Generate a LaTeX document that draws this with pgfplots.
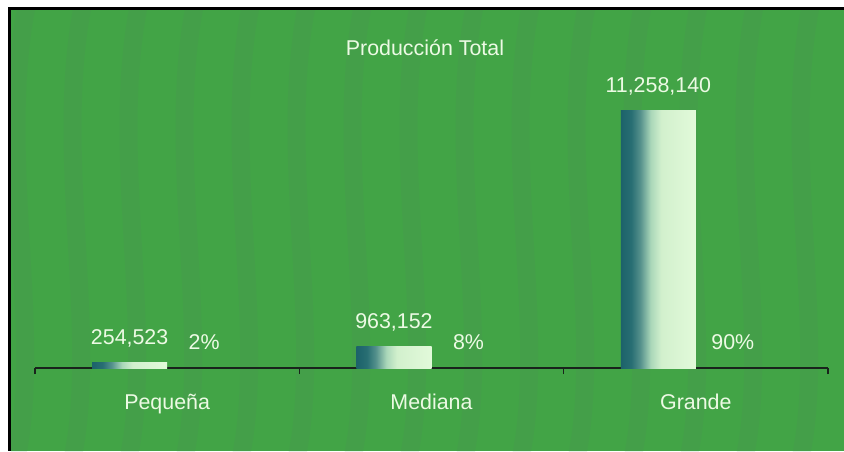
\documentclass[border=0pt]{standalone}
\usepackage{fontspec}
\setmainfont{Liberation Sans}
\usepackage{pgfplots}
\pgfplotsset{compat=1.18}
\definecolor{bg}{RGB}{66,164,70}
\definecolor{streak}{RGB}{85,130,100}
\definecolor{txt}{RGB}{236,250,228}
\definecolor{axisdark}{RGB}{25,35,28}
\definecolor{bA}{RGB}{28,98,106}
\definecolor{bA2}{RGB}{40,110,115}
\definecolor{bB}{RGB}{85,145,140}
\definecolor{bC}{RGB}{170,215,185}
\definecolor{bD}{RGB}{210,240,205}
\definecolor{bE}{RGB}{226,250,218}
\pgfdeclarehorizontalshading{barshade}{100bp}{color(0bp)=(bA); color(25bp)=(bA); color(32bp)=(bA2); color(38bp)=(bB); color(45bp)=(bC); color(52bp)=(bD); color(75bp)=(bE); color(100bp)=(bE)}
\begin{document}
\begin{tikzpicture}[x=1pt,y=1pt]
\fill[white] (0,0) rectangle (422,225.5);
\fill[bg] (5.5,0) rectangle (422,220.5);
\begin{scope}
\clip (5.5,0) rectangle (422,220.5);
\foreach \s in {-20,8,...,440}{
  \draw[streak, opacity=0.12, line width=9pt]
    (\s,-5) .. controls (\s+14,60) and (\s-10,150) .. (\s+6,226);
}
\end{scope}
\fill[black] (4,220.5) rectangle (422,222);
\fill[black] (4,0) rectangle (5.5,222);
\begin{axis}[
  at={(17.5pt,41.5pt)}, anchor=south west,
  scale only axis, width=396.5pt, height=179pt,
  xmin=0, xmax=3, ymin=0, ymax=15682000,
  axis x line=bottom, axis y line=none,
  axis line style={-, axisdark, line width=0.6pt},
  xtick={0,1,2,3}, xticklabels={}, ytick=\empty,
  tick align=outside, major tick length=3pt,
  tick style={axisdark, line width=0.6pt},
  clip=false,
  every node near coord/.append style={text=txt, font=\fontsize{10.7}{12.8}\selectfont},
  barstyle/.style={ybar, bar width=0.284, bar shift=0pt, draw=none,
    shading=barshade,
    nodes near coords, point meta=explicit symbolic,
    nodes near coords style={anchor=base, yshift=9pt}},
]
\addplot[barstyle] coordinates {(0.358,254523)[254,523]};
\addplot[barstyle] coordinates {(1.358,963152)[963,152]};
\addplot[barstyle] coordinates {(2.358,11258140)[11,258,140]};
\addplot[draw=none, mark=none, nodes near coords, point meta=explicit symbolic,
  nodes near coords style={anchor=base, yshift=9.5pt}]
  coordinates {(0.64,0)[2\%] (1.64,0)[8\%] (2.64,0)[90\%]};
\node[anchor=base, text=txt, font=\fontsize{10.7}{12.8}\selectfont] at (rel axis cs:0.4918,0.874) {Producción Total};
\node[anchor=base, yshift=-20.5pt, text=txt, font=\fontsize{10.7}{12.8}\selectfont] at (axis cs:0.5,0) {Pequeña};
\node[anchor=base, yshift=-20.5pt, text=txt, font=\fontsize{10.7}{12.8}\selectfont] at (axis cs:1.5,0) {Mediana};
\node[anchor=base, yshift=-20.5pt, text=txt, font=\fontsize{10.7}{12.8}\selectfont] at (axis cs:2.5,0) {Grande};
\end{axis}
\pgfresetboundingbox
\useasboundingbox (0,0) rectangle (422,225.5);
\end{tikzpicture}
\end{document}
